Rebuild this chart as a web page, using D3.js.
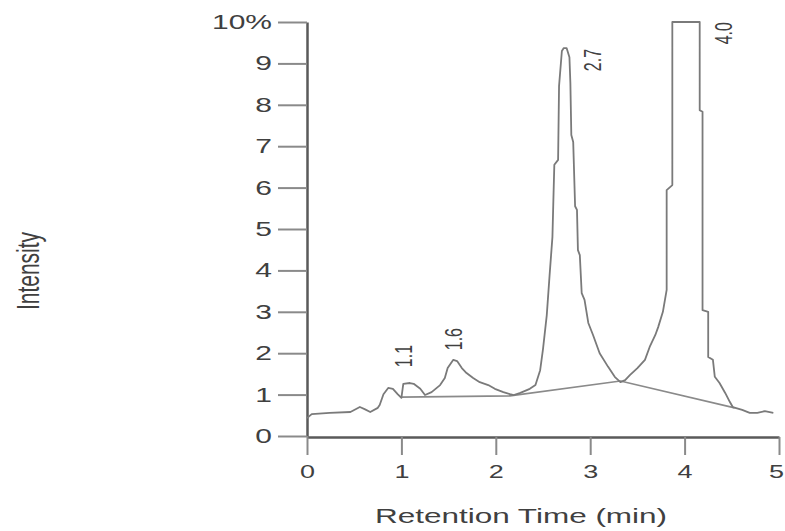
<!DOCTYPE html>
<html>
<head>
<meta charset="utf-8">
<script src="https://cdn.jsdelivr.net/npm/d3@7"></script>
<style>
    body { margin: 0; background: #fff; }
    text { font-family: "Liberation Sans", Arial, sans-serif; fill: #404040; }
</style>
</head>
<body>
<div id="chart"></div>
<script>
// retention time (min), intensity (%)
const traceTime = [0, 0.05, 0.24, 0.46, 0.56, 0.61, 0.67, 0.75, 0.77, 0.81, 0.86, 0.91, 0.96, 1.0,
    1.02, 1.09, 1.13, 1.2, 1.25, 1.32, 1.41, 1.46, 1.49, 1.55, 1.59, 1.64, 1.69, 1.76, 1.83,
    1.92, 1.99, 2.08, 2.15, 2.19, 2.26, 2.31, 2.36, 2.42, 2.47, 2.5, 2.54, 2.57, 2.6, 2.61,
    2.62, 2.66, 2.67, 2.7, 2.72, 2.75, 2.78, 2.79, 2.8, 2.82, 2.84, 2.86, 2.87, 2.89, 2.91,
    2.94, 2.98, 3.03, 3.1, 3.19, 3.26, 3.32, 3.37, 3.42, 3.5, 3.58, 3.63, 3.69, 3.72, 3.77,
    3.81, 3.81, 3.87, 3.87, 4.16, 4.16, 4.19, 4.19, 4.25, 4.25, 4.3, 4.32, 4.37, 4.43, 4.48,
    4.51, 4.61, 4.69, 4.77, 4.85, 4.94];
const traceIntensity = [0.43, 0.53, 0.56, 0.58, 0.70, 0.65, 0.58, 0.68, 0.75, 1.01, 1.16, 1.14, 1.01, 0.92,
    1.26, 1.28, 1.26, 1.14, 0.99, 1.06, 1.23, 1.40, 1.64, 1.84, 1.81, 1.64, 1.52, 1.40, 1.30,
    1.23, 1.14, 1.06, 1.01, 0.99, 1.04, 1.09, 1.14, 1.23, 1.59, 2.10, 2.92, 3.89, 4.81, 5.70,
    6.55, 6.67, 8.45, 9.30, 9.37, 9.37, 9.15, 8.53, 7.27, 7.10, 5.55, 5.46, 4.49, 4.37, 3.45,
    3.29, 2.73, 2.44, 2.00, 1.67, 1.43, 1.30, 1.35, 1.47, 1.64, 1.84, 2.15, 2.44, 2.63, 3.00,
    3.53, 5.94, 6.06, 10, 10, 7.87, 7.83, 3.04, 3.00, 1.91, 1.84, 1.43, 1.28, 1.04, 0.82,
    0.70, 0.63, 0.56, 0.56, 0.60, 0.56];

// integration baseline drawn under the peaks
const baseTime = [0.99, 2.15, 3.32, 4.53];
const baseIntensity = [0.94, 0.97, 1.33, 0.68];

// peak annotations, anchored in data units
const peakLabels = ["1.1", "1.6", "2.7", "4.0"];
const peakLabelTime = [1.02, 1.55, 3.03, 4.41];
const peakLabelIntensity = [1.93, 2.34, 9.08, 9.73];

const xTicks = [0, 1, 2, 3, 4, 5];
const yTicks = [0, 1, 2, 3, 4, 5, 6, 7, 8, 9, 10];
const yTickLabels = ["0", "1", "2", "3", "4", "5", "6", "7", "8", "9", "10%"];

const width = 785, height = 531;
const stretch = 1.5;   // the source image is stretched horizontally

let svg = d3.select("#chart").append("svg")
    .attr("width", width)
    .attr("height", height);

let xScale = d3.scaleLinear().domain([0, 5]).range([307, 779]);
let yScale = d3.scaleLinear().domain([0, 10]).range([436, 22]);

// x axis
let xAxis = svg.append("g").attr("transform", `translate(0, 437)`)
    .call(d3.axisBottom(xScale).tickValues(xTicks).tickFormat(d3.format("d"))
        .tickSize(18).tickPadding(10).tickSizeOuter(0));
xAxis.select(".domain").attr("stroke", "#5a5a5a").attr("stroke-width", 2.5);
xAxis.selectAll(".tick line").attr("stroke", "#8a8a8a").attr("stroke-width", 2);
xAxis.selectAll(".tick text")
    .attr("font-size", 18)
    .attr("fill", "#404040")
    .attr("transform", `scale(${stretch},1)`);
// last label sits right on the edge, pull it in a little
xAxis.selectAll(".tick text").filter(d => d === 5).attr("dx", -3 / stretch);

// y axis
let yAxis = svg.append("g").attr("transform", `translate(307, 0)`)
    .call(d3.axisLeft(yScale).tickValues(yTicks).tickFormat((d, i) => yTickLabels[i])
        .tickSize(29).tickPadding(6).tickSizeOuter(0));
yAxis.select(".domain").attr("stroke", "#5a5a5a").attr("stroke-width", 2.5);
yAxis.selectAll(".tick line").attr("stroke", "#8a8a8a").attr("stroke-width", 2);
yAxis.selectAll(".tick text")
    .attr("font-size", 20)
    .attr("fill", "#404040")
    .attr("x", -35 / stretch)
    .attr("transform", `scale(${stretch},1)`);

// baseline
let line = d3.line().x(d => xScale(d[0])).y(d => yScale(d[1]));
svg.append("path")
    .datum(baseTime.map((t, i) => [t, baseIntensity[i]]))
    .attr("d", line)
    .attr("fill", "none")
    .attr("stroke", "#8a8a8a")
    .attr("stroke-width", 1.6);

// chromatogram trace
svg.append("path")
    .datum(traceTime.map((t, i) => [t, traceIntensity[i]]))
    .attr("d", line)
    .attr("fill", "none")
    .attr("stroke", "#7a7a7a")
    .attr("stroke-width", 1.8)
    .attr("stroke-linejoin", "round");

// peak labels, written bottom to top
svg.selectAll(".peak").data(peakLabels).join("text")
    .attr("class", "peak")
    .attr("transform", (d, i) =>
        `translate(${xScale(peakLabelTime[i])}, ${yScale(peakLabelIntensity[i])}) scale(${stretch},1) rotate(-90)`)
    .attr("text-anchor", "middle")
    .attr("dominant-baseline", "central")
    .attr("font-size", 16)
    .text(d => d);

// axis titles
svg.append("text")
    .attr("transform", `translate(521, 523) scale(${stretch},1)`)
    .attr("text-anchor", "middle")
    .attr("font-size", 21)
    .text("Retention Time (min)");

svg.append("text")
    .attr("transform", `translate(28, 271) scale(${stretch},1) rotate(-90)`)
    .attr("text-anchor", "middle")
    .attr("dominant-baseline", "central")
    .attr("font-size", 21)
    .text("Intensity");
</script>
</body>
</html>
